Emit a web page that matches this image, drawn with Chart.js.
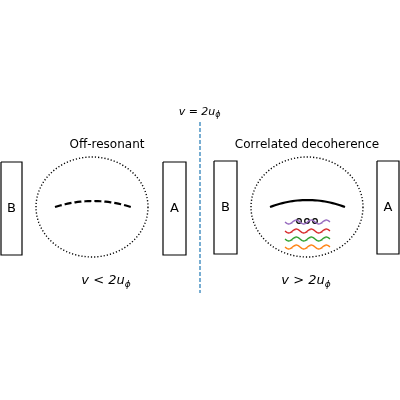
<!DOCTYPE html>
<html>
<head>
<script src="https://cdn.jsdelivr.net/npm/chart.js@4"></script>
<style>
html,body{margin:0;padding:0;background:#fff}
#wrap{width:400px;height:400px}
</style>
</head>
<body>
<div id="wrap"><canvas id="myChart"></canvas></div>
<script>
// boxes: [x0, x1, y0, y1, label]
const boxes = [[1, 22, 162, 255, 'B'], [163, 186, 162, 255, 'A'], [214, 237, 161, 254, 'B'], [377, 399, 161, 254, 'A']];
// ellipses: [cx, cy, rx, ry]
const ellipses = [[92, 207, 56, 50], [307, 207, 56, 50]];
// arcs: [x0, x1, yEnd, yPeak, dashed]
const arcs = [[55, 131, 207, 201, true], [270, 345, 207, 200, false]];
// waves: [y, colour]
const waveRows = [[222, '#9467bd'], [231, '#d62728'], [239, '#2ca02c'], [247, '#ff7f0e']];
const waveX = [285, 330];
const dotsX = [299, 307, 315];
const dotsY = 221;
const texts = [
  ['Off-resonant', 107, 145, false],
  ['Correlated decoherence', 307, 145, false],
  ['v < 2u', 103, 281, true],
  ['v > 2u', 303, 281, true],
  ['v = 2u', 197, 112, true]
];

const datasets = [];
const line = (pts, opts) => datasets.push(Object.assign({data: pts, showLine: true, pointRadius: 0, borderColor: '#000', borderWidth: 1.2, fill: false, tension: 0}, opts));

boxes.forEach(b => line([{x:b[0],y:b[2]},{x:b[1],y:b[2]},{x:b[1],y:b[3]},{x:b[0],y:b[3]},{x:b[0],y:b[2]}], {}));
ellipses.forEach(e => {
  const pts = [];
  for (let i = 0; i <= 120; i++) { const t = i / 120 * 2 * Math.PI; pts.push({x: e[0] + e[2] * Math.cos(t), y: e[1] + e[3] * Math.sin(t)}); }
  line(pts, {borderDash: [1.2, 2], borderWidth: 1.4});
});
arcs.forEach(a => {
  const pts = [], mid = (a[0] + a[1]) / 2, h = (a[1] - a[0]) / 2;
  for (let i = 0; i <= 30; i++) { const x = a[0] + (a[1] - a[0]) * i / 30; const u = (x - mid) / h; pts.push({x, y: a[3] + (a[2] - a[3]) * u * u}); }
  line(pts, {borderWidth: 2.2, borderDash: a[4] ? [7, 3] : []});
});
waveRows.forEach(w => {
  const pts = [];
  for (let i = 0; i <= 60; i++) { const x = waveX[0] + (waveX[1] - waveX[0]) * i / 60; pts.push({x, y: w[0] + 2 * Math.sin((x - waveX[0]) / 15 * 2 * Math.PI)}); }
  line(pts, {borderColor: w[1], borderWidth: 1.3});
});
line([{x:200,y:122},{x:200,y:293}], {borderColor: '#1f77b4', borderDash: [4, 2], borderWidth: 1.2});
datasets.push({data: dotsX.map(x => ({x, y: dotsY})), showLine: false, pointRadius: 2.3, pointBorderWidth: 1.2, pointBackgroundColor: '#fff', pointBorderColor: '#000'});

const labelPlugin = {
  id: 'labels',
  afterDatasetsDraw(chart) {
    const c = chart.ctx, sx = chart.scales.x, sy = chart.scales.y;
    c.save();
    c.fillStyle = '#000'; c.textBaseline = 'middle';
    boxes.forEach(b => { c.font = '13px "DejaVu Sans"'; c.textAlign = 'center'; c.fillText(b[4], sx.getPixelForValue((b[0] + b[1]) / 2), sy.getPixelForValue((b[2] + b[3]) / 2)); });
    texts.forEach(t => {
      const px = sx.getPixelForValue(t[1]), py = sy.getPixelForValue(t[2]);
      if (!t[3]) { c.font = '12px "DejaVu Sans"'; c.textAlign = 'center'; c.fillText(t[0], px, py); return; }
      const big = t[2] > 200;
      const fs = big ? 13 : 11;
      c.font = 'italic ' + fs + 'px "DejaVu Sans"';
      const w = c.measureText(t[0]).width;
      c.textAlign = 'left';
      c.fillText(t[0], px - w / 2, py);
      c.font = 'italic ' + Math.round(fs * 0.7) + 'px "DejaVu Sans"';
      c.fillText('\u03d5', px + w / 2, py + fs * 0.3);
    });
    c.restore();
  }
};

new Chart(document.getElementById('myChart').getContext('2d'), {
  type: 'scatter',
  data: {datasets},
  options: {
    responsive: true, maintainAspectRatio: false, animation: false,
    layout: {padding: 0, autoPadding: false},
    plugins: {legend: {display: false}, tooltip: {enabled: false}},
    scales: {
      x: {type: 'linear', min: 0, max: 400, display: false},
      y: {type: 'linear', min: 0, max: 400, reverse: true, display: false}
    }
  },
  plugins: [labelPlugin]
});
</script>
</body>
</html>
